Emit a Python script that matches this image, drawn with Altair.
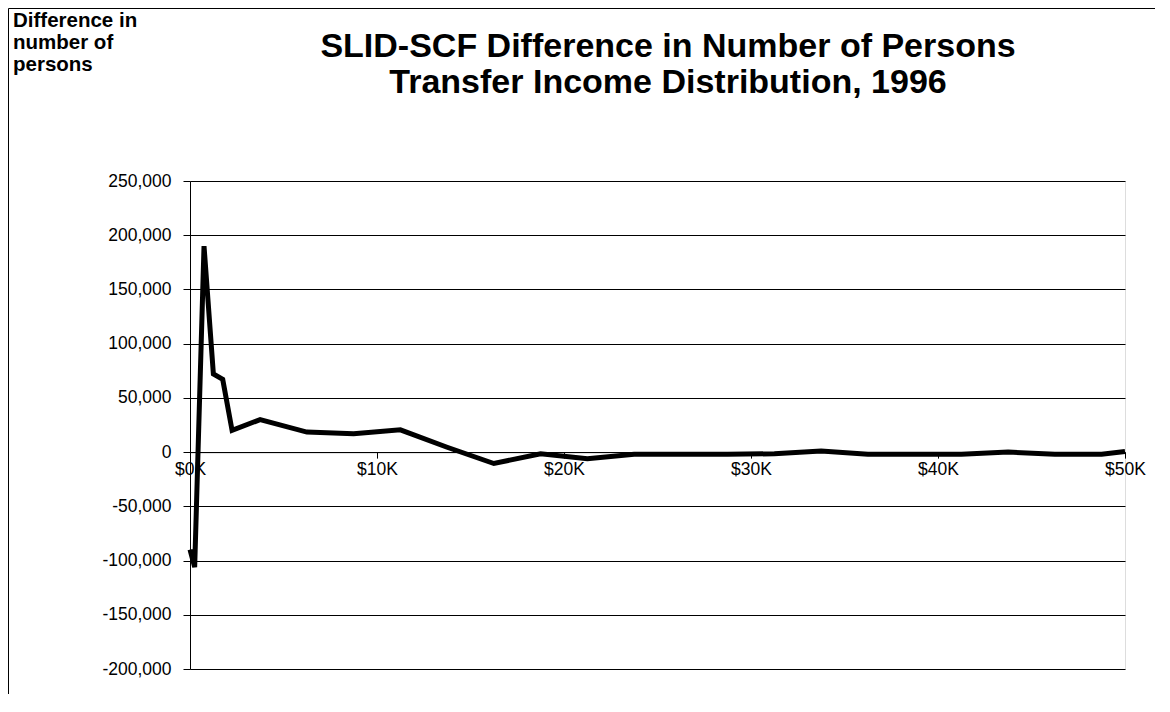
import altair as alt
import pandas as pd

# ---- data ----
income_k = [0, 0.25, 0.75, 1.25, 1.75, 2.25, 3.75, 6.25, 8.75, 11.25, 13.75,
            16.25, 18.75, 21.25, 23.75, 26.25, 28.75, 31.25, 33.75, 36.25,
            38.75, 41.25, 43.75, 46.25, 48.75, 50]
diff_persons = [-90000, -106000, 190000, 72000, 67000, 20000, 30000, 18500,
                17000, 20500, 4500, -10500, -1500, -6000, -2000, -2000, -2000,
                -1500, 1000, -2000, -2000, -2000, 0, -2000, -2000, 500]
y_ticks = [-200000, -150000, -100000, -50000, 0, 50000, 100000, 150000,
           200000, 250000]
x_ticks = [0, 10, 20, 30, 40, 50]
title_lines = ["SLID-SCF Difference in Number of Persons",
               "Transfer Income Distribution, 1996"]
ytitle_lines = ["Difference in", "number of", "persons"]

FONT = "Liberation Sans"
W, H = 935, 488
Y_MIN, Y_MAX = -200000, 250000
zero_offset = -(H - H * Y_MAX / (Y_MAX - Y_MIN))

df = pd.DataFrame({"income_k": income_k, "diff": diff_persons})
one = pd.DataFrame({"a": [0]})

line = alt.Chart(df).mark_line(color="black", strokeWidth=5).encode(
    x=alt.X(
        "income_k:Q",
        scale=alt.Scale(domain=[0, 50], nice=False, zero=False),
        axis=alt.Axis(
            values=x_ticks, labelExpr="'$' + datum.value + 'K'",
            offset=zero_offset, grid=False, domainColor="black",
            tickColor="black", tickSize=6, labelFontSize=17.5,
            labelPadding=2, labelColor="black", labelFlush=False,
            labelFont=FONT, title=None, zindex=0,
        ),
    ),
    y=alt.Y(
        "diff:Q",
        scale=alt.Scale(domain=[Y_MIN, Y_MAX], nice=False),
        axis=alt.Axis(
            values=y_ticks,
            labelExpr="(datum.value < 0 ? '-' : '') + format(abs(datum.value), ',.0f')",
            grid=True, gridColor="black",
            gridWidth=1, gridOpacity=1, domainColor="black",
            tickColor="black", tickSize=7, labelFontSize=17.5,
            labelPadding=12, labelColor="black", labelFont=FONT,
            title=None, zindex=0,
        ),
    ),
)

layers = []
border = alt.Chart(one).mark_rect(filled=False, stroke="black", strokeWidth=1).encode(
    x=alt.value(-181.5), x2=alt.value(W + 80),
    y=alt.value(-172.5), y2=alt.value(H + 80),
)
layers.append(border)

title_y = [-124, -88]
for t, yy in zip(title_lines, title_y):
    layers.append(
        alt.Chart(one).mark_text(
            font=FONT, fontSize=34, fontWeight="bold", color="black",
            align="center", baseline="alphabetic",
        ).encode(x=alt.value(478), y=alt.value(yy), text=alt.value(t))
    )

ytitle_y = [-154, -132, -110]
for t, yy in zip(ytitle_lines, ytitle_y):
    layers.append(
        alt.Chart(one).mark_text(
            font=FONT, fontSize=20.5, fontWeight="bold", color="black",
            align="left", baseline="alphabetic",
        ).encode(x=alt.value(-177), y=alt.value(yy), text=alt.value(t))
    )

chart = alt.layer(line, *layers).properties(
    width=W, height=H,
    autosize=alt.AutoSizeParams(type="none"),
    padding={"left": 182, "top": 173, "right": 30, "bottom": 25},
).configure_view(stroke="#808080", strokeWidth=2).configure(font=FONT)

chart.save("out.html", embed_options={"renderer": "svg", "actions": False})
